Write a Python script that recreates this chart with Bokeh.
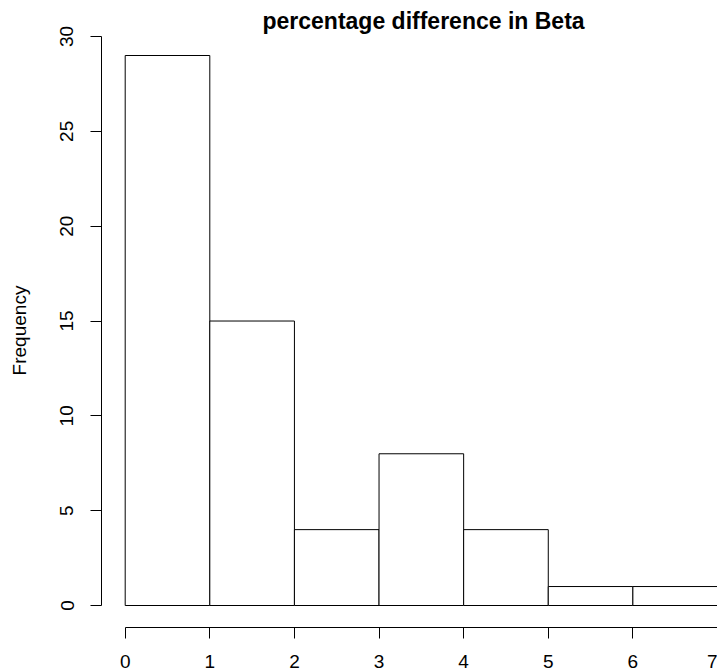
from bokeh.plotting import figure
from bokeh.models import Range1d, FixedTicker, ColumnDataSource
from bokeh.embed import file_html
from bokeh.resources import INLINE

# Histogram bins (edges) and counts
bin_left = [0, 1, 2, 3, 4, 5, 6]
bin_right = [1, 2, 3, 4, 5, 6, 7]
counts = [29, 15, 4, 8, 4, 1, 1]

x_ticks = [0, 1, 2, 3, 4, 5, 6, 7]
y_ticks = [0, 5, 10, 15, 20, 25, 30]

FONT = "Liberation Sans"

src = ColumnDataSource(dict(left=bin_left, right=bin_right, top=counts,
                            bottom=[0] * len(counts)))

p = figure(width=717, height=671, output_backend="svg", toolbar_location=None,
           x_range=Range1d(-0.28, 7.0), y_range=Range1d(-1.16, 30.16),
           min_border_left=101, min_border_right=0,
           min_border_top=33, min_border_bottom=44,
           title="percentage difference in Beta")

p.quad(left="left", right="right", top="top", bottom="bottom", source=src,
       fill_color="white", line_color="black", line_width=1)

p.outline_line_color = None
p.grid.visible = False
p.background_fill_color = "white"
p.border_fill_color = "white"

# title
p.title.text_font = FONT
p.title.text_font_style = "bold"
p.title.text_font_size = "23px"
p.title.text_color = "black"
p.title.align = "left"
p.title.offset = 161
p.title.standoff = 0

for ax in (p.xaxis[0], p.yaxis[0]):
    ax.axis_line_color = "black"
    ax.axis_line_width = 1
    ax.major_tick_line_color = "black"
    ax.major_tick_out = 11
    ax.major_tick_in = 0
    ax.minor_tick_line_color = None
    ax.major_label_text_font = FONT
    ax.major_label_text_font_size = "19px"
    ax.major_label_text_color = "black"
    ax.axis_label_text_font = FONT
    ax.axis_label_text_font_size = "19px"
    ax.axis_label_text_font_style = "normal"
    ax.axis_label_text_color = "black"

xa = p.xaxis[0]
xa.ticker = FixedTicker(ticks=x_ticks)
xa.bounds = (0, 7)
xa.major_label_standoff = 16

ya = p.yaxis[0]
ya.ticker = FixedTicker(ticks=y_ticks)
ya.bounds = (0, 30)
ya.major_label_orientation = "vertical"
ya.major_label_standoff = 17
ya.axis_label = "Frequency"
ya.axis_label_standoff = 28

open("out.html", "w").write(file_html(p, INLINE))
